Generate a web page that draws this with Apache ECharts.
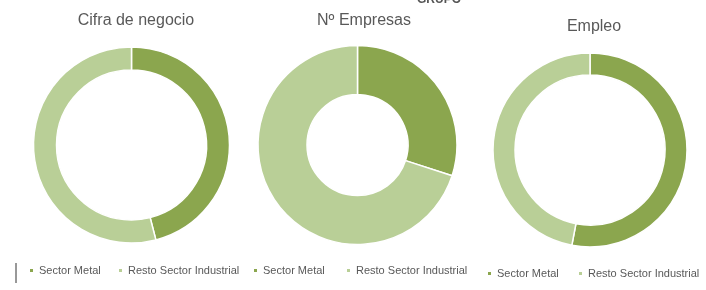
<!DOCTYPE html>
<html>
<head>
<meta charset="utf-8">
<script src="https://cdn.jsdelivr.net/npm/echarts@6/dist/echarts.min.js"></script>
<style>
html,body{margin:0;padding:0;background:#fff;}
#chart{width:706px;height:290px;}
</style>
</head>
<body>
<div id="chart"></div>
<script>
// datos de los tres anillos
var charts = ['Cifra de negocio', 'Nº Empresas', 'Empleo'];
var categories = ['Sector Metal', 'Resto Sector Industrial'];
var sectorMetal = [46, 30, 53];
var restoIndustrial = [54, 70, 47];

var colors = ['#8ba64e', '#b9cf97'];
var fontFam = '"Liberation Sans", Arial, sans-serif';

// posiciones de cada anillo
var centers = [[131.5, 145], [357.5, 145], [590, 150]];
var radii = [[75, 98], [50.5, 99.5], [75, 97]];
var titlePos = [[131, 8], [359, 8], [589, 14]];
var legendPos = [[28, 117, 265], [252, 345, 265], [486, 577, 268]];

var titles = [];
var legends = [];
var series = [];
for (var i = 0; i < charts.length; i++) {
    titles.push({
        text: charts[i],
        left: titlePos[i][0],
        top: titlePos[i][1],
        textAlign: 'center',
        textStyle: {fontFamily: fontFam, fontSize: 16, fontWeight: 'normal', color: '#595959'}
    });
    for (var j = 0; j < 2; j++) {
        legends.push({
            data: [categories[j]],
            left: legendPos[i][j],
            top: legendPos[i][2],
            padding: 0,
            icon: 'rect',
            itemWidth: 5,
            itemHeight: 5,
            itemGap: 0,
            selectedMode: false,
            textStyle: {fontFamily: fontFam, fontSize: 11, color: '#595959'}
        });
    }
    series.push({
        name: charts[i],
        type: 'pie',
        center: centers[i],
        radius: radii[i],
        startAngle: 90,
        clockwise: true,
        silent: true,
        label: {show: false},
        labelLine: {show: false},
        itemStyle: {borderColor: '#fff', borderWidth: 1.5},
        data: [
            {value: sectorMetal[i], name: categories[0], itemStyle: {color: colors[0]}},
            {value: restoIndustrial[i], name: categories[1], itemStyle: {color: colors[1]}}
        ]
    });
}

var myChart = echarts.init(document.getElementById('chart'), null, {renderer: 'canvas'});
myChart.setOption({
    animation: false,
    color: colors,
    title: titles,
    legend: legends,
    series: series,
    graphic: [
        {   // logo recortado arriba
            type: 'text',
            left: 417,
            top: -6,
            style: {text: 'GRUPO', font: 'bold 12px ' + fontFam, fill: '#555'}
        },
        {   // linea vertical a la izquierda de la leyenda
            type: 'line',
            shape: {x1: 16, y1: 263, x2: 16, y2: 283},
            style: {stroke: '#333', lineWidth: 1}
        }
    ]
});
</script>
</body>
</html>
